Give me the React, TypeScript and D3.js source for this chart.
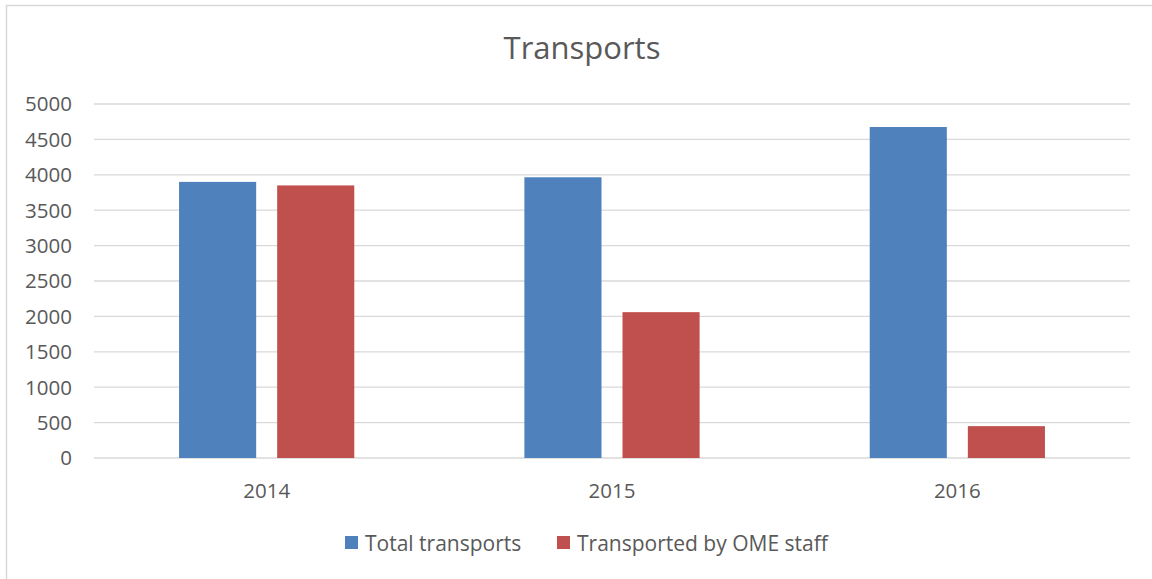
import React from "react";
import * as d3 from "d3";

const years = ["2014", "2015", "2016"];
const seriesNames = ["Total transports", "Transported by OME staff"];
const totalTransports = [3900, 3965, 4675];
const omeStaff = [3850, 2060, 450];
const yTicks = [0, 500, 1000, 1500, 2000, 2500, 3000, 3500, 4000, 4500, 5000];
const colors = ["#4F81BD", "#C0504D"];

const W = 1152;
const H = 579;
const FONT = "'Open Sans', 'Liberation Sans', sans-serif";

export default function App() {
  const x0 = d3.scaleBand<string>().domain(years).range([94, 1130]).padding(0);
  const x1 = d3
    .scaleBand<string>()
    .domain(seriesNames)
    .range([0, x0.bandwidth()])
    .paddingInner(0.214)
    .paddingOuter(0.867);
  const y = d3.scaleLinear().domain([0, 5000]).range([458, 104]);
  const values = [totalTransports, omeStaff];

  return (
    <svg
      width={W}
      height={H}
      style={{ position: "absolute", left: 0, top: 0, background: "#fff" }}
      fontFamily={FONT}
    >
      <rect x={6.5} y={5.5} width={W + 10} height={H + 10} fill="#fff" stroke="#D9D9D9" strokeWidth={1.5} />
      <text x={582} y={59} textAnchor="middle" fontSize={31} fill="#595959">
        Transports
      </text>
      {yTicks.map((t) => (
        <g key={t}>
          <line x1={94} x2={1130} y1={y(t)} y2={y(t)} stroke="#D9D9D9" strokeWidth={1.3} />
          <text x={72} y={y(t)} dy="0.36em" textAnchor="end" fontSize={20.5} fill="#595959">
            {t}
          </text>
        </g>
      ))}
      {years.map((yr, i) => (
        <g key={yr} transform={`translate(${x0(yr)},0)`}>
          {seriesNames.map((s, j) => (
            <rect
              key={s}
              x={x1(s)}
              y={y(values[j][i])}
              width={x1.bandwidth()}
              height={y(0) - y(values[j][i])}
              fill={colors[j]}
            />
          ))}
          <text x={x0.bandwidth() / 2} y={491} dy="0.36em" textAnchor="middle" fontSize={20.5} fill="#595959">
            {yr}
          </text>
        </g>
      ))}
      <g>
        <rect x={345} y={536} width={13} height={13} fill={colors[0]} />
        <text x={365} y={543} dy="0.36em" fontSize={21} fill="#595959">
          {seriesNames[0]}
        </text>
        <rect x={557} y={536} width={13} height={13} fill={colors[1]} />
        <text x={577} y={543} dy="0.36em" fontSize={21} fill="#595959">
          {seriesNames[1]}
        </text>
      </g>
    </svg>
  );
}
